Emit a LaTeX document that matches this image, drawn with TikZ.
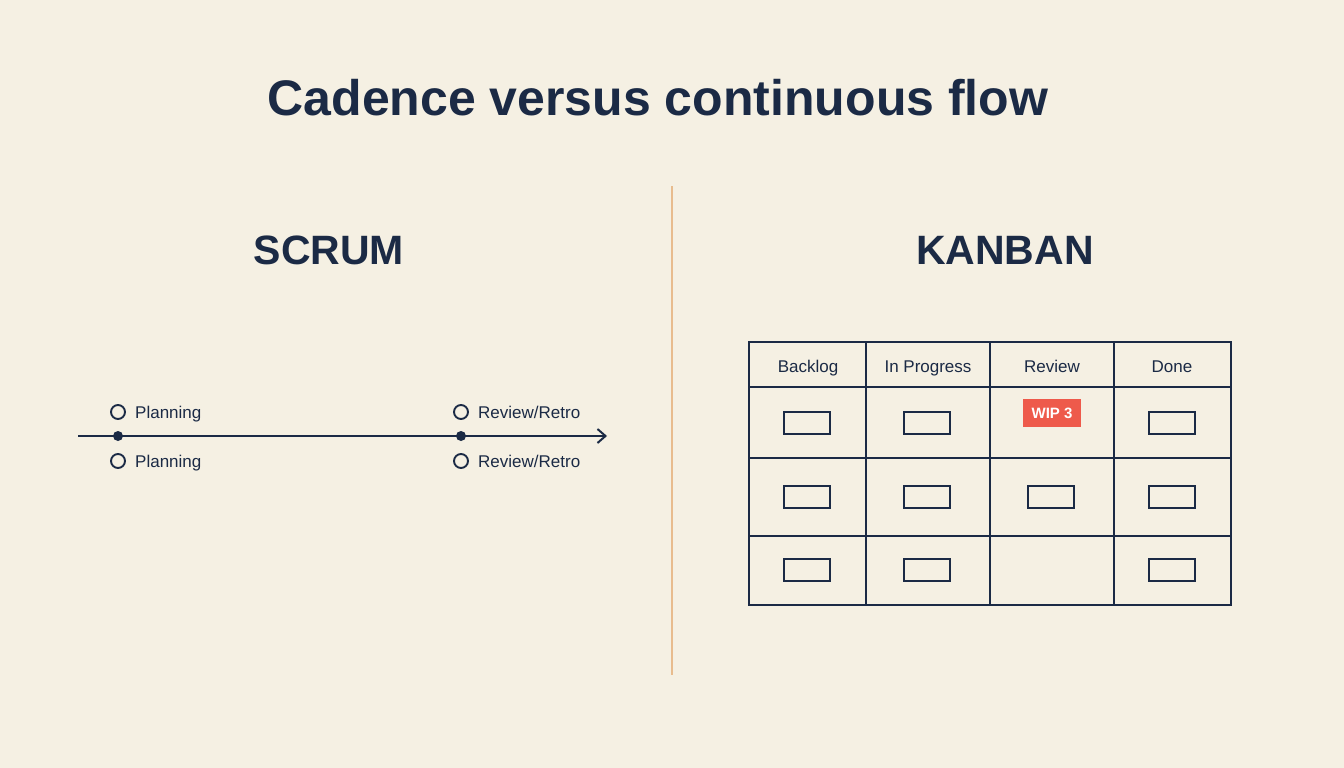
\documentclass[tikz,border=0pt]{standalone}
\usepackage{fontspec}
\setmainfont{Liberation Sans}
\usetikzlibrary{arrows.meta}
\definecolor{bg}{HTML}{F5F0E3}
\definecolor{navy}{HTML}{1B2A45}
\definecolor{divider}{HTML}{E8BC8E}
\definecolor{wipred}{HTML}{EE5A4B}
\tikzset{
  grid/.style={draw=navy, line width=2.2pt},
  card/.style={draw=navy, line width=2.2pt, minimum width=46pt, minimum height=22pt, inner sep=0pt},
  hdr/.style={text=navy, font=\fontsize{17}{20}\selectfont, inner sep=0pt, text height=12pt, text depth=0pt},
  lbl/.style={text=navy, font=\fontsize{17}{20}\selectfont, anchor=west, inner sep=0pt, text height=12pt, text depth=0pt},
  ring/.style={circle, draw=navy, line width=1.9pt, minimum size=14pt, inner sep=0pt},
  dot/.style={circle, fill=navy, minimum size=10pt, inner sep=0pt},
  heading/.style={text=navy, font=\bfseries\fontsize{41}{48}\selectfont, inner sep=0pt},
}
\begin{document}
\begin{tikzpicture}[x=1pt,y=-1pt]
\useasboundingbox (0,0) rectangle (1344,768);
\fill[bg] (0,0) rectangle (1344,768);

\node[text=navy, font=\bfseries\fontsize{50}{58}\selectfont, inner sep=0pt] (title) at (658,98) {Cadence versus continuous flow};

\draw[divider, line width=2pt] (672,186) -- (672,675);

\node[heading] (scrum) at (329,250) {SCRUM};
\node[heading] (kanban) at (1005,250) {KANBAN};

% timeline
\coordinate (tstart) at (78,436);
\coordinate (tend) at (607,436);
\draw[navy, line width=2pt, -{Straight Barb[length=8pt,width=14pt,line width=2pt]}] (tstart) -- (tend);
\node[dot] (d1) at (118,436) {};
\node[dot] (d2) at (461,436) {};
\node[ring] (r1) at (118,412) {};
\node[ring] (r2) at (118,461) {};
\node[ring] (r3) at (461,412) {};
\node[ring] (r4) at (461,461) {};
\node[lbl] (l1) at (135,412) {Planning};
\node[lbl] (l2) at (135,461) {Planning};
\node[lbl] (l3) at (478,412) {Review/Retro};
\node[lbl] (l4) at (478,461) {Review/Retro};

% kanban board
\draw[grid] (749,342) rectangle (1231,605);
\foreach \x in {866,990,1114} \draw[grid] (\x,342) -- (\x,605);
\foreach \y in {387,458,536} \draw[grid] (749,\y) -- (1231,\y);
\node[hdr] (h1) at (808,366) {Backlog};
\node[hdr] (h2) at (928,366) {In Progress};
\node[hdr] (h3) at (1052,366) {Review};
\node[hdr] (h4) at (1172,366) {Done};

\node[card] (c11) at (807,423) {};
\node[card] (c12) at (927,423) {};
\node[card] (c14) at (1172,423) {};
\node[card] (c21) at (807,497) {};
\node[card] (c22) at (927,497) {};
\node[card] (c23) at (1051,497) {};
\node[card] (c24) at (1172,497) {};
\node[card] (c31) at (807,570) {};
\node[card] (c32) at (927,570) {};
\node[card] (c34) at (1172,570) {};

\node[fill=wipred, text=white, font=\bfseries\fontsize{15}{18}\selectfont, minimum width=58pt, minimum height=28pt, inner sep=0pt, text height=11pt, text depth=0pt] (wip) at (1052,413) {WIP 3};
\end{tikzpicture}
\end{document}
